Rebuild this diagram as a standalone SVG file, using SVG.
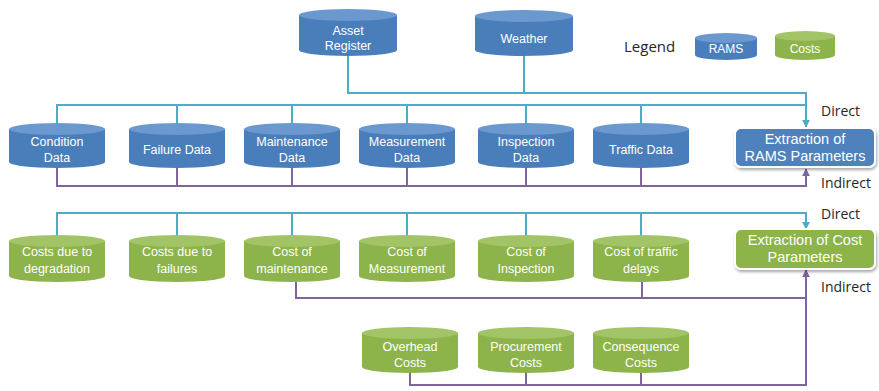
<svg xmlns="http://www.w3.org/2000/svg" width="879" height="391" viewBox="0 0 879 391">
  <defs>
    <marker id="arrCyan" viewBox="0 0 10 10" refX="9" refY="5" markerWidth="4" markerHeight="4" orient="auto">
      <path d="M0,0 L10,5 L0,10 z" fill="#4bacc6"/>
    </marker>
    <marker id="arrPurple" viewBox="0 0 10 10" refX="9" refY="5" markerWidth="4" markerHeight="4" orient="auto">
      <path d="M0,0 L10,5 L0,10 z" fill="#8064a2"/>
    </marker>
    <filter id="shadow" x="-10%" y="-20%" width="120%" height="150%">
      <feGaussianBlur in="SourceAlpha" stdDeviation="1.5"/>
      <feOffset dx="1" dy="2" result="b"/>
      <feComponentTransfer><feFuncA type="linear" slope="0.35"/></feComponentTransfer>
      <feMerge><feMergeNode/><feMergeNode in="SourceGraphic"/></feMerge>
    </filter>
  </defs>
  <style>
    .blue .body { fill: #4a7ebb; }
    .blue .top { fill: #6a98cf; }
    .green .body { fill: #8cb44a; }
    .green .top { fill: #a2c466; }
    .cyl text { fill: #ffffff; font-family: "Liberation Sans", Arial, sans-serif; font-size: 12.5px; text-anchor: middle; }
    .box rect { stroke: #ffffff; stroke-width: 2; }
    .box text { fill: #ffffff; font-family: "Liberation Sans", Arial, sans-serif; font-size: 14.5px; text-anchor: middle; }
    .lbl { fill: #262626; font-family: "Open Sans", "Liberation Sans", sans-serif; font-size: 14px; }
    .cyan { fill: none; stroke: #4bacc6; stroke-width: 2; }
    .purple { fill: none; stroke: #8064a2; stroke-width: 2; }
  </style>

  <!-- connectors -->
  <g id="connectors">
    <!-- RAMS direct sources -->
    <path class="cyan" d="M348,56 V93 H806 V127" marker-end="url(#arrCyan)"/>
    <path class="cyan" d="M524,56 V93"/>
    <path class="cyan" d="M57,123 V105 H806"/>
    <path class="cyan" d="M177,123 V105 M292,123 V105 M407,123 V105 M526,123 V105 M641,123 V105"/>
    <!-- RAMS indirect -->
    <path class="purple" d="M57,168 V186 H806 V169" marker-end="url(#arrPurple)"/>
    <path class="purple" d="M177,168 V186 M292,168 V186 M407,168 V186 M526,168 V186 M641,168 V186"/>
    <!-- Cost direct -->
    <path class="cyan" d="M57,235 V213 H806 V229" marker-end="url(#arrCyan)"/>
    <path class="cyan" d="M177,235 V213 M292,235 V213 M407,235 V213 M526,235 V213 M641,235 V213"/>
    <!-- Cost indirect -->
    <path class="purple" d="M296,282 V298 H806"/>
    <path class="purple" d="M642,282 V298"/>
    <path class="purple" d="M410,373 V385 H806 V270" marker-end="url(#arrPurple)"/>
    <path class="purple" d="M526,373 V385 M641,373 V385"/>
  </g>

  <!-- top sources -->
  <g id="asset-register" class="cyl blue" transform="translate(348,9)">
    <path class="body" d="M-49,6 V41 A49,6 0 0 0 49,41 V6 Z"/>
    <ellipse class="top" cx="0" cy="6" rx="49" ry="6"/>
    <text y="26">Asset</text><text y="41">Register</text>
  </g>
  <g id="weather" class="cyl blue" transform="translate(524,10)">
    <path class="body" d="M-49,6 V40 A49,6 0 0 0 49,40 V6 Z"/>
    <ellipse class="top" cx="0" cy="6" rx="49" ry="6"/>
    <text y="33">Weather</text>
  </g>

  <!-- legend -->
  <g id="legend">
    <text class="lbl" x="624" y="52" style="font-size:15px">Legend</text>
    <g id="legend-rams" class="cyl blue" transform="translate(726,33)">
      <path class="body" d="M-31,5 V22 A31,5 0 0 0 31,22 V5 Z"/>
      <ellipse class="top" cx="0" cy="5" rx="31" ry="5"/>
      <text y="20" style="font-size:12px">RAMS</text>
    </g>
    <g id="legend-costs" class="cyl green" transform="translate(805,31)">
      <path class="body" d="M-30,5 V24 A30,5 0 0 0 30,24 V5 Z"/>
      <ellipse class="top" cx="0" cy="5" rx="30" ry="5"/>
      <text y="22" style="font-size:12px">Costs</text>
    </g>
  </g>

  <!-- RAMS data row -->
  <g id="condition-data" class="cyl blue" transform="translate(57,123)">
    <path class="body" d="M-48,6 V39 A48,6 0 0 0 48,39 V6 Z"/>
    <ellipse class="top" cx="0" cy="6" rx="48" ry="6"/>
    <text y="23">Condition</text><text y="39">Data</text>
  </g>
  <g id="failure-data" class="cyl blue" transform="translate(177,123)">
    <path class="body" d="M-48,6 V39 A48,6 0 0 0 48,39 V6 Z"/>
    <ellipse class="top" cx="0" cy="6" rx="48" ry="6"/>
    <text y="31">Failure Data</text>
  </g>
  <g id="maintenance-data" class="cyl blue" transform="translate(292,123)">
    <path class="body" d="M-48,6 V39 A48,6 0 0 0 48,39 V6 Z"/>
    <ellipse class="top" cx="0" cy="6" rx="48" ry="6"/>
    <text y="23">Maintenance</text><text y="39">Data</text>
  </g>
  <g id="measurement-data" class="cyl blue" transform="translate(407,123)">
    <path class="body" d="M-48,6 V39 A48,6 0 0 0 48,39 V6 Z"/>
    <ellipse class="top" cx="0" cy="6" rx="48" ry="6"/>
    <text y="23">Measurement</text><text y="39">Data</text>
  </g>
  <g id="inspection-data" class="cyl blue" transform="translate(526,123)">
    <path class="body" d="M-48,6 V39 A48,6 0 0 0 48,39 V6 Z"/>
    <ellipse class="top" cx="0" cy="6" rx="48" ry="6"/>
    <text y="23">Inspection</text><text y="39">Data</text>
  </g>
  <g id="traffic-data" class="cyl blue" transform="translate(641,123)">
    <path class="body" d="M-48,6 V39 A48,6 0 0 0 48,39 V6 Z"/>
    <ellipse class="top" cx="0" cy="6" rx="48" ry="6"/>
    <text y="31">Traffic Data</text>
  </g>

  <g id="rams-extraction" class="box">
    <rect x="735" y="128" width="140" height="39" rx="6" fill="#4f81bd" filter="url(#shadow)"/>
    <text x="805" y="144">Extraction of</text>
    <text x="805" y="161">RAMS Parameters</text>
  </g>
  <text class="lbl" x="821" y="116">Direct</text>
  <text class="lbl" x="821" y="188">Indirect</text>

  <!-- cost data row -->
  <g id="costs-degradation" class="cyl green" transform="translate(57,235)">
    <path class="body" d="M-48,6 V41 A48,6 0 0 0 48,41 V6 Z"/>
    <ellipse class="top" cx="0" cy="6" rx="48" ry="6"/>
    <text y="21">Costs due to</text><text y="38">degradation</text>
  </g>
  <g id="costs-failures" class="cyl green" transform="translate(177,235)">
    <path class="body" d="M-48,6 V41 A48,6 0 0 0 48,41 V6 Z"/>
    <ellipse class="top" cx="0" cy="6" rx="48" ry="6"/>
    <text y="21">Costs due to</text><text y="38">failures</text>
  </g>
  <g id="cost-maintenance" class="cyl green" transform="translate(292,235)">
    <path class="body" d="M-48,6 V41 A48,6 0 0 0 48,41 V6 Z"/>
    <ellipse class="top" cx="0" cy="6" rx="48" ry="6"/>
    <text y="21">Cost of</text><text y="38">maintenance</text>
  </g>
  <g id="cost-measurement" class="cyl green" transform="translate(407,235)">
    <path class="body" d="M-48,6 V41 A48,6 0 0 0 48,41 V6 Z"/>
    <ellipse class="top" cx="0" cy="6" rx="48" ry="6"/>
    <text y="21">Cost of</text><text y="38">Measurement</text>
  </g>
  <g id="cost-inspection" class="cyl green" transform="translate(526,235)">
    <path class="body" d="M-48,6 V41 A48,6 0 0 0 48,41 V6 Z"/>
    <ellipse class="top" cx="0" cy="6" rx="48" ry="6"/>
    <text y="21">Cost of</text><text y="38">Inspection</text>
  </g>
  <g id="cost-traffic" class="cyl green" transform="translate(641,235)">
    <path class="body" d="M-48,6 V41 A48,6 0 0 0 48,41 V6 Z"/>
    <ellipse class="top" cx="0" cy="6" rx="48" ry="6"/>
    <text y="21">Cost of traffic</text><text y="38">delays</text>
  </g>

  <g id="cost-extraction" class="box">
    <rect x="735" y="229" width="140" height="40" rx="6" fill="#8cb44a" filter="url(#shadow)"/>
    <text x="805" y="245">Extraction of Cost</text>
    <text x="805" y="262">Parameters</text>
  </g>
  <text class="lbl" x="821" y="219">Direct</text>
  <text class="lbl" x="821" y="292">Indirect</text>

  <!-- bottom cost row -->
  <g id="overhead-costs" class="cyl green" transform="translate(410,327)">
    <path class="body" d="M-48,6 V40 A48,6 0 0 0 48,40 V6 Z"/>
    <ellipse class="top" cx="0" cy="6" rx="48" ry="6"/>
    <text y="24">Overhead</text><text y="40">Costs</text>
  </g>
  <g id="procurement-costs" class="cyl green" transform="translate(526,327)">
    <path class="body" d="M-48,6 V40 A48,6 0 0 0 48,40 V6 Z"/>
    <ellipse class="top" cx="0" cy="6" rx="48" ry="6"/>
    <text y="24">Procurement</text><text y="40">Costs</text>
  </g>
  <g id="consequence-costs" class="cyl green" transform="translate(641,327)">
    <path class="body" d="M-48,6 V40 A48,6 0 0 0 48,40 V6 Z"/>
    <ellipse class="top" cx="0" cy="6" rx="48" ry="6"/>
    <text y="24">Consequence</text><text y="40">Costs</text>
  </g>
</svg>
